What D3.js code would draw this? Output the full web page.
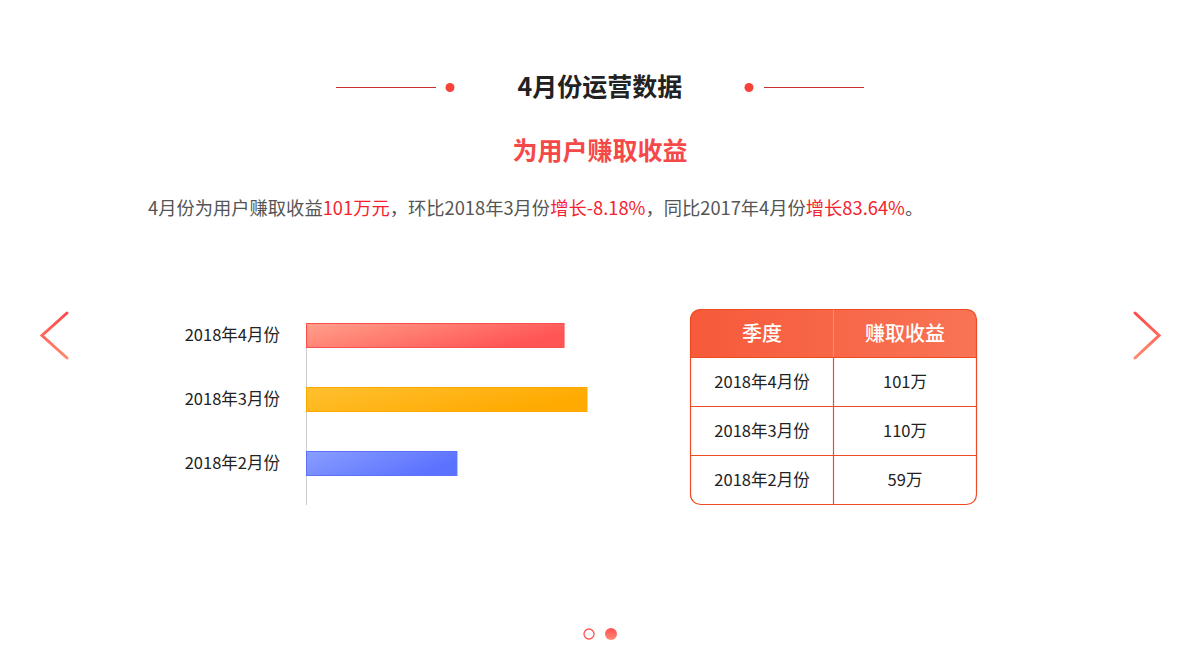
<!DOCTYPE html>
<html><head><meta charset="utf-8">
<script src="https://cdn.jsdelivr.net/npm/d3@7"></script>
<style>
body{margin:0;background:#fff;font-family:"Microsoft YaHei","Noto Sans CJK SC",sans-serif;}
</style></head>
<body><svg id="c" width="1200" height="670"></svg>
<script>
const months = ["2018年4月份","2018年3月份","2018年2月份"];
const revenue = [101,110,59];
const valueLabels = ["101万","110万","59万"];
const tableHeader = ["季度","赚取收益"];
const barColors = [["#ffa08a","#ff5555"],["#ffc030","#ffaa00"],["#8a9eff","#5a72ff"]];
const barStrokes = ["#ff5050","#ffaa00","#5a72ff"];

const svg = d3.select("#c");
const font = "'Microsoft YaHei','Noto Sans CJK SC',sans-serif";
const defs = svg.append("defs");

// Title
svg.append("text").attr("x",600).attr("y",96).attr("text-anchor","middle")
  .attr("font-family",font).attr("font-size",25).attr("font-weight","bold").attr("fill","#222").text("4月份运营数据");
svg.append("line").attr("x1",336).attr("x2",436).attr("y1",87.5).attr("y2",87.5).attr("stroke","#c83030").attr("stroke-width",1);
svg.append("line").attr("x1",764).attr("x2",864).attr("y1",87.5).attr("y2",87.5).attr("stroke","#c83030").attr("stroke-width",1);
svg.append("circle").attr("cx",450).attr("cy",87.5).attr("r",4.5).attr("fill","#f5433a");
svg.append("circle").attr("cx",749).attr("cy",87.5).attr("r",4.5).attr("fill","#f5433a");

svg.append("text").attr("x",600).attr("y",160).attr("text-anchor","middle")
  .attr("font-family",font).attr("font-size",25).attr("font-weight","bold").attr("fill","#f54848").text("为用户赚取收益");

// paragraph
const para = [["4月份为用户赚取收益","#555"],["101万元","#f5222d"],["，环比2018年3月份","#555"],["增长-8.18%","#f5222d"],["，同比2017年4月份","#555"],["增长83.64%","#f5222d"],["。","#555"]];
const pt = svg.append("text").attr("x",148).attr("y",215).attr("font-family",font).attr("font-size",18.3);
para.forEach(p=>pt.append("tspan").attr("fill",p[1]).text(p[0]));

// Bar chart
const x = d3.scaleLinear().domain([0,120]).range([306,612]);
const y = d3.scaleBand().domain(months).range([303,495]).paddingInner(0.625).paddingOuter(0.3125);
months.forEach((m,i)=>{
  const g = defs.append("linearGradient").attr("id","bg"+i).attr("x1","0").attr("x2","1").attr("y1","0").attr("y2","0.4");
  g.append("stop").attr("offset","0").attr("stop-color",barColors[i][0]);
  g.append("stop").attr("offset","1").attr("stop-color",barColors[i][1]);
});
svg.append("line").attr("x1",306.5).attr("x2",306.5).attr("y1",323).attr("y2",505).attr("stroke","#ccc");
svg.selectAll("rect.bar").data(revenue).join("rect").attr("class","bar")
  .attr("x",x(0)+0.5).attr("y",(d,i)=>y(months[i])+0.5)
  .attr("width",d=>x(d)-x(0)).attr("height",y.bandwidth())
  .attr("fill",(d,i)=>`url(#bg${i})`).attr("stroke",(d,i)=>barStrokes[i]).attr("stroke-width",1);
svg.selectAll("text.lab").data(months).join("text").attr("class","lab")
  .attr("x",280).attr("y",d=>y(d)+y.bandwidth()/2+6).attr("text-anchor","end")
  .attr("font-family",font).attr("font-size",16.5).attr("fill","#222").text(d=>d);

// Table
const tx0=690.5, tx1=833.5, tx2=976.5, ty0=309.5, hh=48, rh=49;
const hg = defs.append("linearGradient").attr("id","hg").attr("x1","0").attr("x2","1");
hg.append("stop").attr("offset","0").attr("stop-color","#f65a3a");
hg.append("stop").attr("offset","1").attr("stop-color","#f87455");
const tyEnd = ty0+hh+rh*3;
const r=10;
svg.append("path").attr("d",`M${tx0},${ty0+hh} V${ty0+r} Q${tx0},${ty0} ${tx0+r},${ty0} H${tx2-r} Q${tx2},${ty0} ${tx2},${ty0+r} V${ty0+hh} Z`).attr("fill","url(#hg)");
svg.append("rect").attr("x",tx0).attr("y",ty0).attr("width",tx2-tx0).attr("height",tyEnd-ty0).attr("rx",r).attr("fill","none").attr("stroke","#f04a23").attr("stroke-width",1.2);
svg.append("line").attr("x1",tx1).attr("x2",tx1).attr("y1",ty0).attr("y2",ty0+hh).attr("stroke","#f98a70").attr("stroke-width",1);
svg.append("line").attr("x1",tx1).attr("x2",tx1).attr("y1",ty0+hh).attr("y2",tyEnd).attr("stroke","#f04a23").attr("stroke-width",1.2);
for(let k=0;k<3;k++){
  svg.append("line").attr("x1",tx0).attr("x2",tx2).attr("y1",ty0+hh+rh*k).attr("y2",ty0+hh+rh*k).attr("stroke","#f04a23").attr("stroke-width",1.2);
}
tableHeader.forEach((h,i)=>{
  svg.append("text").attr("x",i?(tx1+tx2)/2:(tx0+tx1)/2).attr("y",ty0+hh/2+7).attr("text-anchor","middle")
   .attr("font-family",font).attr("font-size",20).attr("font-weight",500).attr("fill","#fff").text(h);
});
months.forEach((m,i)=>{
  const cy = ty0+hh+rh*i+rh/2+6;
  svg.append("text").attr("x",(tx0+tx1)/2).attr("y",cy).attr("text-anchor","middle").attr("font-family",font).attr("font-size",16.5).attr("fill","#222").text(m);
  svg.append("text").attr("x",(tx1+tx2)/2).attr("y",cy).attr("text-anchor","middle").attr("font-family",font).attr("font-size",16.5).attr("fill","#222").text(valueLabels[i]);
});

// arrows
const ag = defs.append("linearGradient").attr("id","ag").attr("x1","0").attr("x2","0").attr("y1","0").attr("y2","1");
ag.append("stop").attr("offset","0").attr("stop-color","#ff4848");
ag.append("stop").attr("offset","1").attr("stop-color","#ff8a70");
svg.append("path").attr("d","M67,313 L42,335.5 L67,358").attr("fill","none").attr("stroke","url(#ag)").attr("stroke-width",3).attr("stroke-linecap","round");
svg.append("path").attr("d","M1135,313 L1159,335.5 L1135,358").attr("fill","none").attr("stroke","url(#ag)").attr("stroke-width",3).attr("stroke-linecap","round");

// pager dots
const dg = defs.append("linearGradient").attr("id","dg").attr("x1","0").attr("x2","0").attr("y1","0").attr("y2","1");
dg.append("stop").attr("offset","0").attr("stop-color","#ff5050");
dg.append("stop").attr("offset","1").attr("stop-color","#ff8a78");
svg.append("circle").attr("cx",589).attr("cy",634).attr("r",5).attr("fill","none").attr("stroke","#ff5050").attr("stroke-width",1.3);
svg.append("circle").attr("cx",611).attr("cy",634).attr("r",6).attr("fill","url(#dg)");
</script></body></html>
